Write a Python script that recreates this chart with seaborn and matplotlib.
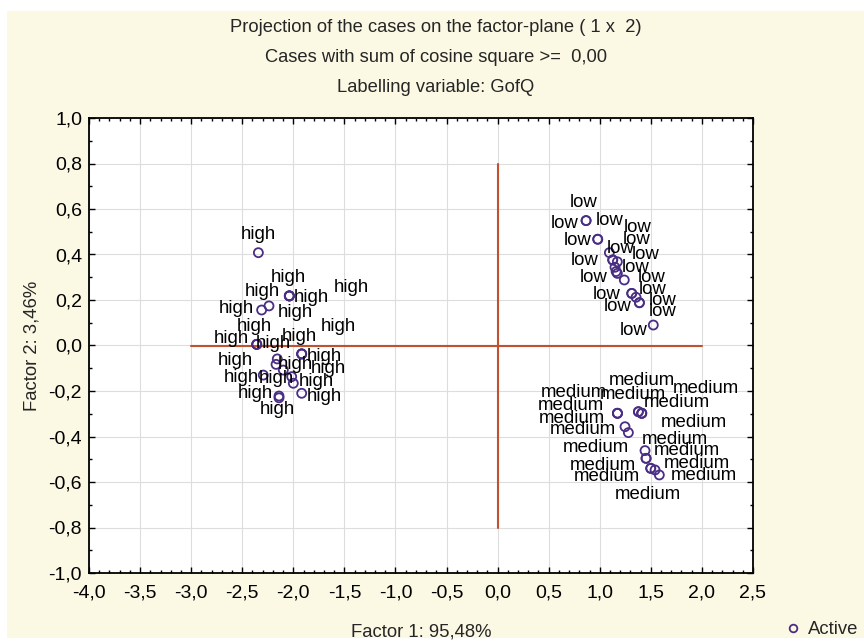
import matplotlib
matplotlib.use("Agg")
import matplotlib.pyplot as plt
from matplotlib.patches import Rectangle
from matplotlib.lines import Line2D
from matplotlib.ticker import MultipleLocator, FuncFormatter
import seaborn as sns
import pandas as pd

# ---------------- data ----------------
high_x = [-2.342, -2.039, -2.039, -2.039, -2.039, -2.238, -2.310, -2.358, -2.358, -2.358,
          -1.918, -1.918, -1.918, -2.294, -2.157, -2.169, -2.098, -2.016, -2.000,
          -2.140, -2.140, -1.918]
high_y = [0.408, 0.218, 0.218, 0.218, 0.218, 0.174, 0.156, 0.005, 0.005, 0.005,
          -0.037, -0.037, -0.037, -0.130, -0.059, -0.083, -0.108, -0.137, -0.166,
          -0.222, -0.230, -0.210]

low_x = [0.866, 0.866, 0.980, 0.980, 1.094, 1.127, 1.127, 1.172, 1.149, 1.160,
         1.172, 1.240, 1.313, 1.313, 1.355, 1.388, 1.388, 1.524]
low_y = [0.549, 0.549, 0.467, 0.467, 0.408, 0.376, 0.376, 0.368, 0.344, 0.325,
         0.317, 0.288, 0.229, 0.229, 0.212, 0.188, 0.188, 0.090]

med_x = [1.173, 1.173, 1.173, 1.378, 1.378, 1.411, 1.411, 1.411, 1.247, 1.280,
         1.443, 1.453, 1.453, 1.499, 1.499, 1.541, 1.583]
med_y = [-0.298, -0.298, -0.298, -0.291, -0.291, -0.298, -0.298, -0.298, -0.357, -0.383,
         -0.462, -0.496, -0.496, -0.540, -0.540, -0.547, -0.569]

title_lines = ["Projection of the cases on the factor-plane ( 1 x  2)",
               "Cases with sum of cosine square >=  0,00",
               "Labelling variable: GofQ"]
x_label = "Factor 1: 95,48%"
y_label = "Factor 2: 3,46%"
legend_label = "Active"

# ---------------- label placement (style: pixel offsets, screen y down) ----------------
high_off = [(0, -18), (-1, -18), (22, 2), (62, -8), (6, 17), (-7, -14), (-25, -2), (-2, -18),
            (-25, -6), (17, -1), (-2, -17), (23, 3), (37, -27), (-22, 2),
            (18, 6), (-41, -4), (45, -2), (-15, 2), (23, -2), (-24, -3), (-2, 12), (23, 3)]
low_off = [(-2, -18), (-21, 3), (12, -19), (-20, 1), (11, -4), (24, -20), (25, -32), (28, -7),
           (-30, -7), (20, -4), (-24, 4), (27, -2), (21, -4), (-25, 1), (-18, 9), (23, -2),
           (23, 9), (-20, 5)]
med_off = [(-44, -21), (-47, -8), (-46, 5), (-5, -17), (68, -23), (0, -33), (35, -11), (52, 9),
           (-42, 3), (-32, 15), (30, -11), (41, -8), (-43, 7), (46, -5), (-44, 8), (-7, 25),
           (45, 1)]

df = pd.DataFrame({
    "f1": high_x + low_x + med_x,
    "f2": high_y + low_y + med_y,
    "label": ["high"] * len(high_x) + ["low"] * len(low_x) + ["medium"] * len(med_x),
    "kind": [legend_label] * (len(high_x) + len(low_x) + len(med_x)),
})
offsets = high_off + low_off + med_off

# ---------------- styling ----------------
sns.set_theme(style="white")
plt.rcParams["font.family"] = ["Liberation Sans", "DejaVu Sans"]

fig = plt.figure(figsize=(8.64, 6.42), dpi=100)
fig.patch.set_facecolor("white")
fig.patches.append(Rectangle((7 / 864, 1 - 638 / 642), 857 / 864, 627 / 642,
                             transform=fig.transFigure, facecolor="#FBF8E4",
                             edgecolor="none", zorder=-10))

ax = fig.add_axes([89 / 864, 1 - 573 / 642, 664 / 864, 455 / 642])
ax.set_facecolor("white")

ax.set_xlim(-4.0, 2.5)
ax.set_ylim(-1.0, 1.0)
ax.xaxis.set_major_locator(MultipleLocator(0.5))
ax.yaxis.set_major_locator(MultipleLocator(0.2))
ax.xaxis.set_minor_locator(MultipleLocator(0.1))
ax.yaxis.set_minor_locator(MultipleLocator(0.1))
fmt = FuncFormatter(lambda v, p: f"{v:.1f}".replace(".", ",").replace("-0,0", "0,0"))
ax.xaxis.set_major_formatter(fmt)
ax.yaxis.set_major_formatter(fmt)
ax.grid(True, which="major", color="#DDDDDD", linewidth=0.8)
ax.set_axisbelow(True)
ax.tick_params(which="both", direction="in", top=True, right=True, bottom=True, left=True,
               colors="black", labelsize=14)
ax.tick_params(axis="x", pad=8)
ax.tick_params(axis="y", pad=5)
ax.tick_params(which="major", length=4, width=1)
ax.tick_params(which="minor", length=2, width=1)
for s in ax.spines.values():
    s.set_color("black")
    s.set_linewidth(1.3)

# cross lines through origin
line_c = "#C0522F"
ax.plot([-3.0, 2.0], [0, 0], color=line_c, lw=1.5, zorder=2)
ax.plot([0, 0], [-0.8, 0.8], color=line_c, lw=1.5, zorder=2)

sns.scatterplot(data=df, x="f1", y="f2", ax=ax, marker="o", s=42,
                facecolors="none", edgecolor="#4A2D84", linewidth=1.3, legend=False, zorder=3)

for (xv, yv, lab), (dx, dy) in zip(df[["f1", "f2", "label"]].itertuples(index=False), offsets):
    ax.annotate(lab, (xv, yv), xytext=(dx, -dy), textcoords="offset pixels",
                ha="center", va="center", fontsize=13.4, color="black", zorder=4)

ax.set_xlabel(x_label, fontsize=13.3, labelpad=16)
ax.set_ylabel(y_label, fontsize=13.3, labelpad=6)

for i, t in enumerate(title_lines):
    fig.text(436 / 864, 1 - (27 + 30.5 * i) / 642, t, ha="center", va="center", fontsize=13.2)

# legend outside, bottom right
leg_handle = Line2D([], [], marker="o", linestyle="none", markerfacecolor="none",
                    markeredgecolor="#4A2D84", markeredgewidth=1.3, markersize=5.5)
fig.legend([leg_handle], [legend_label], loc="center left",
           bbox_to_anchor=(786 / 864, 1 - 630 / 642), frameon=False, fontsize=13.3,
           handletextpad=0.4, handlelength=0.8, borderaxespad=0, borderpad=0)

fig.savefig("out.png", dpi=100)
